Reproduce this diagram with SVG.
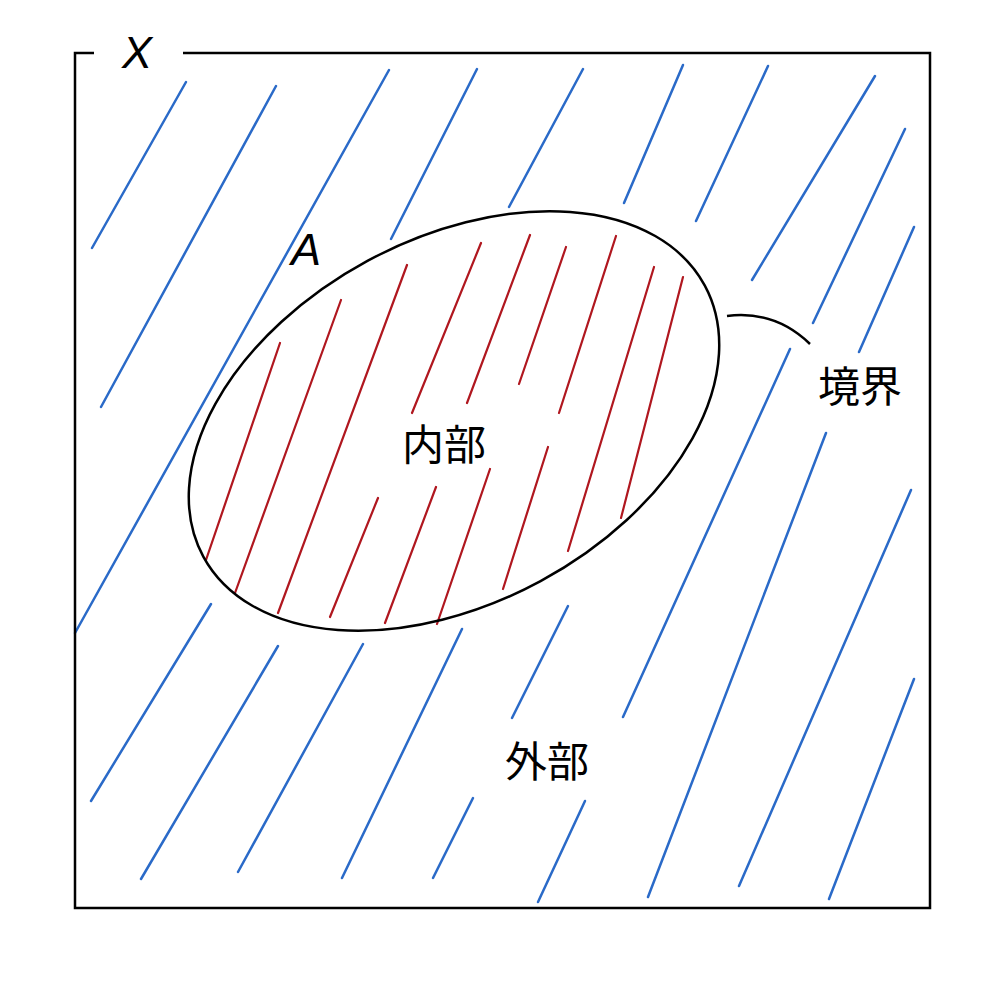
<svg xmlns="http://www.w3.org/2000/svg" width="1000" height="1004" viewBox="0 0 1000 1004">
<style>
.b{stroke:#2a6ac8;stroke-width:2.5;fill:none;stroke-linecap:round}
.r{stroke:#b0171f;stroke-width:2.2;fill:none;stroke-linecap:round}
.k{stroke:#000;stroke-width:2.5;fill:none}
.lat{font-family:"Liberation Sans",Arial,sans-serif;font-style:italic;font-size:45px;fill:#000}
.cjk{font-family:"Noto Sans CJK JP","Noto Sans CJK SC",sans-serif;font-size:42px;fill:#000;text-anchor:middle}
</style>
<rect width="1000" height="1004" fill="#fff"/>
<g id="hatch-exterior">
<line class="b" x1="186" y1="82" x2="92" y2="248"/>
<line class="b" x1="276" y1="86" x2="101" y2="407"/>
<line class="b" x1="389" y1="70" x2="75" y2="633"/>
<line class="b" x1="477" y1="69" x2="391" y2="239"/>
<line class="b" x1="583" y1="69" x2="509" y2="207"/>
<line class="b" x1="683" y1="65" x2="624" y2="203"/>
<line class="b" x1="768" y1="66" x2="696" y2="221"/>
<line class="b" x1="875" y1="76" x2="752" y2="280"/>
<line class="b" x1="905" y1="129" x2="813" y2="323"/>
<line class="b" x1="914" y1="227" x2="859" y2="352"/>
<line class="b" x1="790" y1="349" x2="623" y2="717"/>
<line class="b" x1="826" y1="433" x2="648" y2="897"/>
<line class="b" x1="911" y1="490" x2="739" y2="886"/>
<line class="b" x1="914" y1="679" x2="829" y2="899"/>
<line class="b" x1="211" y1="604" x2="91" y2="801"/>
<line class="b" x1="278" y1="646" x2="141" y2="879"/>
<line class="b" x1="363" y1="644" x2="238" y2="872"/>
<line class="b" x1="462" y1="629" x2="342" y2="878"/>
<line class="b" x1="473" y1="798" x2="433" y2="878"/>
<line class="b" x1="568" y1="606" x2="512" y2="718"/>
<line class="b" x1="585" y1="801" x2="538" y2="902"/>
</g>
<g id="hatch-interior">
<line class="r" x1="280" y1="343" x2="206" y2="560"/>
<line class="r" x1="341" y1="300" x2="235" y2="593"/>
<line class="r" x1="407" y1="265" x2="278" y2="613"/>
<line class="r" x1="481" y1="243" x2="412" y2="413"/>
<line class="r" x1="530" y1="235" x2="467" y2="403"/>
<line class="r" x1="566" y1="247" x2="519" y2="384"/>
<line class="r" x1="616" y1="236" x2="559" y2="413"/>
<line class="r" x1="654" y1="267" x2="568" y2="551"/>
<line class="r" x1="683" y1="277" x2="621" y2="518"/>
<line class="r" x1="378" y1="498" x2="330" y2="617"/>
<line class="r" x1="436" y1="487" x2="385" y2="623"/>
<line class="r" x1="490" y1="469" x2="437" y2="624"/>
<line class="r" x1="548" y1="447" x2="503" y2="589"/>
</g>
<g id="space-X">
<path class="k" d="M94 53 H75 V908 H930 V53 H183"/>
<text class="lat" x="137" y="68" text-anchor="middle">X</text>
</g>
<g id="set-A">
<ellipse class="k" cx="454" cy="421" rx="285" ry="182" transform="rotate(-28.4 454 421)"/>
<text class="lat" x="306" y="265" text-anchor="middle">A</text>
</g>
<g id="connectors">
<path class="k" d="M727 316 Q775 310 810 344"/>
</g>
<g id="label-boundary"><text class="cjk" x="860" y="402">境界</text></g>
<g id="label-interior"><text class="cjk" x="444" y="460">内部</text></g>
<g id="label-exterior"><text class="cjk" x="547" y="777">外部</text></g>
</svg>
